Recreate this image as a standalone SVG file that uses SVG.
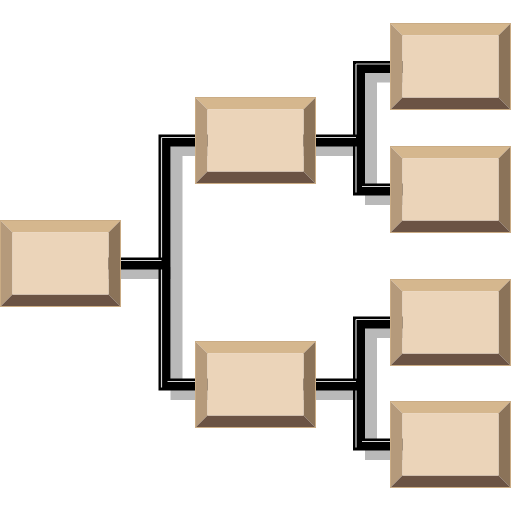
<svg xmlns="http://www.w3.org/2000/svg" xmlns:xlink="http://www.w3.org/1999/xlink" width="512" height="512" viewBox="0 0 512 512">
<style>
.sh{fill:none;stroke:#b9b9b9;stroke-width:12;stroke-linejoin:miter;stroke-linecap:butt}
.ln{fill:none;stroke:#000;stroke-width:12;stroke-linejoin:miter;stroke-linecap:butt}
.hl{fill:none;stroke:#d4d4d4;stroke-width:1.2;stroke-linecap:butt}
</style>
<defs>
<g id="box">
<polygon points="0,0 121,0 108.5,12.5 12.5,12.5" fill="#d5b78e"/>
<polygon points="0,0 12.5,12.5 12.5,74.5 0,87" fill="#b59a7b"/>
<polygon points="121,0 121,87 108.5,74.5 108.5,12.5" fill="#8b7359"/>
<polygon points="0,87 12.5,74.5 108.5,74.5 121,87" fill="#6b5344"/>
<rect x="12.5" y="12.5" width="96" height="62" fill="#ebd4b9"/>
<rect x="0.5" y="0.5" width="120" height="86" fill="none" stroke="#caac85" stroke-width="1"/>
</g>
</defs>
<g id="connectors">
<g transform="translate(12,9.5)">
<path class="sh" d="M60,263.5 H164.5"/>
<path class="sh" d="M255,140.5 H164.5 V384.5 H255"/>
<path class="sh" d="M255,140.5 H359"/>
<path class="sh" d="M450,67 H359 V189.5 H450"/>
<path class="sh" d="M255,384.5 H359"/>
<path class="sh" d="M450,322.5 H359 V444.5 H450"/>
</g>
<path class="ln" d="M60,263.5 H164.5"/>
<path class="ln" d="M255,140.5 H164.5 V384.5 H255"/>
<path class="ln" d="M255,140.5 H359"/>
<path class="ln" d="M450,67 H359 V189.5 H450"/>
<path class="ln" d="M255,384.5 H359"/>
<path class="ln" d="M450,322.5 H359 V444.5 H450"/>
<path class="hl" d="M121,260.5 H161.5 M161.5,137.5 H195 M161.5,137.5 V257.5 M161.5,269.5 V387.5 M167.5,381.5 H195"/>
<path class="hl" d="M316,137.5 H356 M356,64 H390 M356,64 V134.5 M356,146.5 V192.5 M362,186.5 H390"/>
<path class="hl" d="M316,381.5 H356 M356,319.5 H390 M356,319.5 V378.5 M356,390.5 V447.5 M362,441.5 H390"/>
</g>
<g id="root"><use xlink:href="#box" transform="translate(0,220)"/></g>
<g id="mid1"><use xlink:href="#box" transform="translate(195,97)"/></g>
<g id="mid2"><use xlink:href="#box" transform="translate(195,341)"/></g>
<g id="leaf1"><use xlink:href="#box" transform="translate(390,23)"/></g>
<g id="leaf2"><use xlink:href="#box" transform="translate(390,146)"/></g>
<g id="leaf3"><use xlink:href="#box" transform="translate(390,279)"/></g>
<g id="leaf4"><use xlink:href="#box" transform="translate(390,401)"/></g>
</svg>
